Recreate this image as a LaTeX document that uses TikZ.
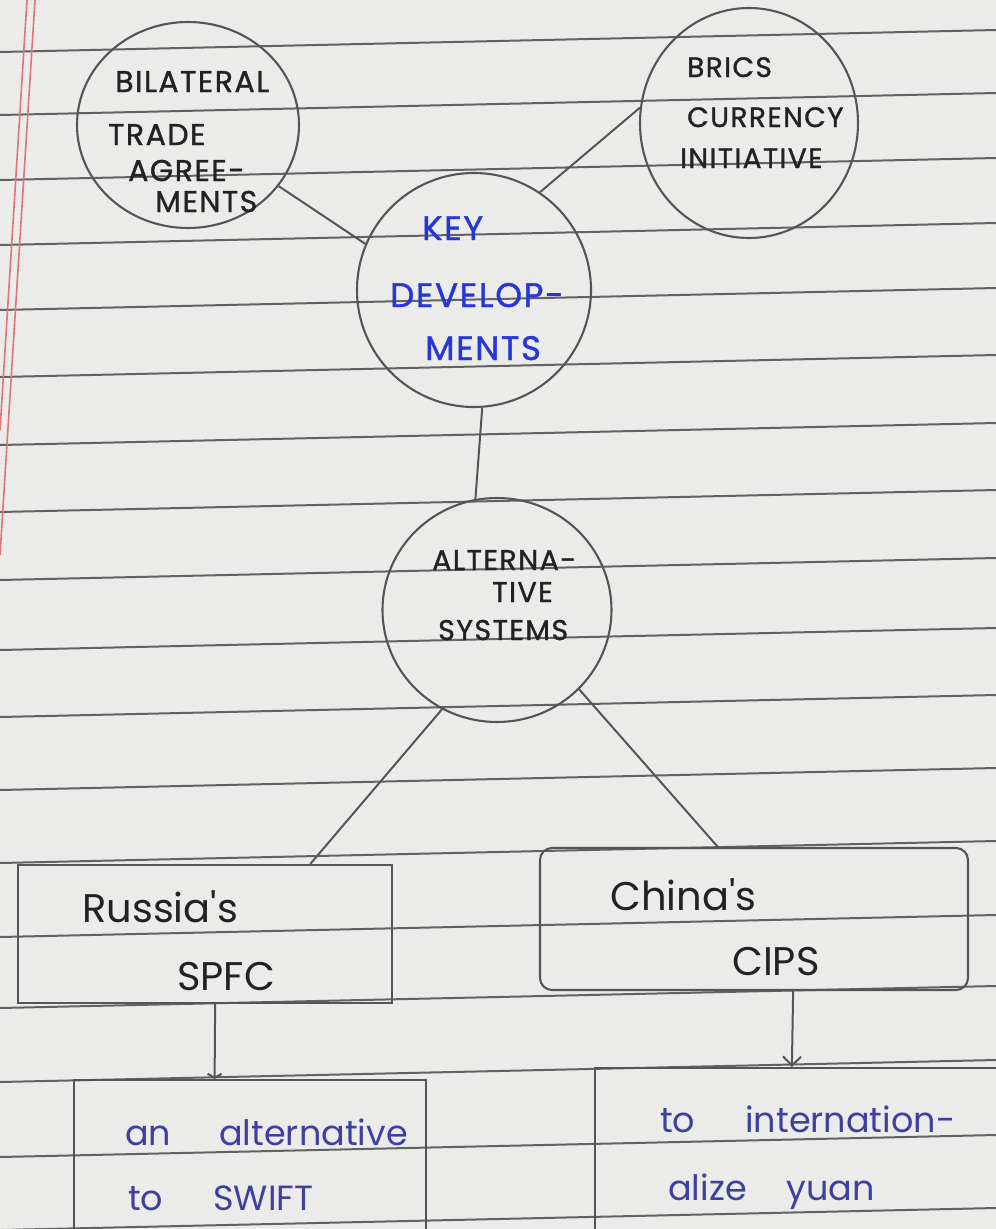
\documentclass[tikz,border=0pt]{standalone}
\usepackage{fontspec}
\setmainfont{Poppins}
\newfontfamily\hand[LetterSpace=5,FakeBold=1.2]{Poppins}
\newfontfamily\pen{Poppins}
\usetikzlibrary{shapes.geometric,arrows.meta,calc}
\definecolor{paper}{HTML}{EBEBE9}
\definecolor{ruleline}{HTML}{626262}
\definecolor{pencil}{HTML}{555555}
\definecolor{ink}{HTML}{222222}
\definecolor{keyblue}{HTML}{2636D8}
\definecolor{penblue}{HTML}{3E40A0}
\definecolor{marginred}{HTML}{E0737C}
\begin{document}
\begin{tikzpicture}[x=1pt,y=-1pt,
  bubble/.style={ellipse, draw=pencil, line width=2.1pt, inner sep=0pt},
  boxnode/.style={rectangle, draw=pencil, line width=2.1pt, inner sep=0pt},
  link/.style={draw=pencil, line width=2pt},
  rulestyle/.style={draw=ruleline, line width=2pt},
  capsA/.style={anchor=base west, inner sep=0pt, text=ink, font=\hand\fontsize{30}{30}\selectfont},
  capsC/.style={anchor=base west, inner sep=0pt, text=ink, font=\hand\fontsize{28}{28}\selectfont},
  capsB/.style={anchor=base west, inner sep=0pt, text=ink, font=\hand\fontsize{28.5}{28.5}\selectfont},
  keytext/.style={anchor=base west, inner sep=0pt, text=keyblue, font=\hand\fontsize{34}{34}\selectfont},
  boxtext/.style={anchor=base west, inner sep=0pt, text=ink, font=\pen\fontsize{40}{40}\selectfont},
  bluetext/.style={anchor=base west, inner sep=0pt, text=penblue, font=\pen\fontsize{35}{35}\selectfont}]
\useasboundingbox (0,0) rectangle (996,1229);
\clip (0,0) rectangle (996,1229);
\fill[paper] (0,0) rectangle (996,1229);
% ruled lines
\foreach \yy in {52,115,180,245,310,377,445,512,580,650,717,790,863,937,1008,1082,1157,1230}
  \draw[rulestyle] (0,\yy) -- (996,\yy-22);
% margin
\draw[marginred, line width=1.6pt] (27,0) -- (0,430);
\draw[marginred, line width=1.6pt] (35,0) -- (0,555);

% circles
\node[bubble, minimum width=222pt, minimum height=206pt] (bil) at (188,125) {};
\node[bubble, minimum width=218pt, minimum height=230pt] (brics) at (749,123) {};
\node[bubble, minimum width=234pt, minimum height=234pt] (key) at (474,290) {};
\node[bubble, minimum width=229pt, minimum height=224pt] (alt) at (497,610) {};

% boxes
\node[boxnode, minimum width=374pt, minimum height=138pt] (rus) at (205,934) {};
\node[boxnode, rounded corners=12pt, minimum width=428pt, minimum height=142pt] (chn) at (754,919) {};
\node[boxnode, minimum width=352pt, minimum height=180pt] (swf) at (250,1170) {};
\node[boxnode, minimum width=440pt, minimum height=190pt] (yuan) at (815,1163) {};

% texts
\node[capsA] (b1) at (115,92) {BILATERAL};
\node[capsA] (b2) at (108,145) {TRADE};
\node[capsA] (b3) at (128,181) {AGREE-};
\node[capsA] (b4) at (155,212) {MENTS};

\node[capsC] (r1) at (687,77) {BRICS};
\node[capsC] (r2) at (687,127) {CURRENCY};
\node[capsC] (r3) at (680,168) {INITIATIVE};

\node[keytext] (k1) at (422,240) {KEY};
\node[keytext] (k2) at (390,307) {DEVELOP-};
\node[keytext] (k3) at (425,360) {MENTS};

\node[capsB] (a1) at (432,570) {ALTERNA-};
\node[capsB] (a2) at (492,602) {TIVE};
\node[capsB] (a3) at (438,640) {SYSTEMS};

\node[boxtext] (s1) at (82,922) {Russia's};
\node[boxtext] (s2) at (177,990) {SPFC};
\node[boxtext] (c1) at (610,910) {China's};
\node[boxtext] (c2) at (732,975) {CIPS};

\node[bluetext] (w1) at (125,1145) {an\hspace{48pt}alternative};
\node[bluetext] (w2) at (128,1210) {to\hspace{50pt}SWIFT};
\node[bluetext] (y1) at (660,1132) {to\hspace{50pt}internation-};
\node[bluetext] (y2) at (668,1200) {alize\hspace{40pt}yuan};

% connectors
\draw[link] (bil.-34) -- (key.157);
\draw[link] (brics.172) -- (key.56);
\draw[link] (key.-86) -- (alt.101);
\draw[link] (alt.-119) -- ($(rus.north west)!0.78!(rus.north east)$);
\draw[link] (alt.-44) -- ($(chn.north west)!0.416!(chn.north east)$);
\draw[link, -{Straight Barb[length=4pt,width=14pt]}] ($(rus.south west)!0.527!(rus.south east)$) -- ($(swf.north west)!0.4!(swf.north east)$);
\draw[link, -{Straight Barb[length=9pt,width=18pt]}] ($(chn.south west)!0.591!(chn.south east)$) -- ($(yuan.north west)!0.4477!(yuan.north east)$);
\end{tikzpicture}
\end{document}
